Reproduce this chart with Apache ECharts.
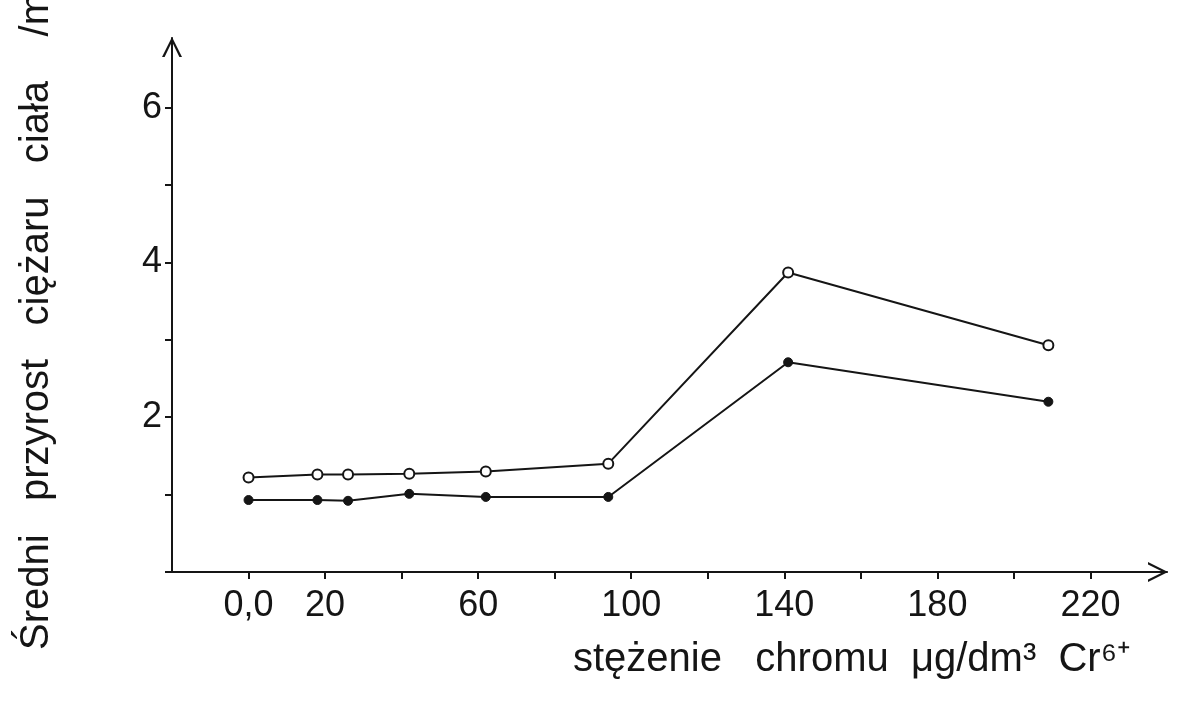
<!DOCTYPE html>
<html>
<head>
<meta charset="utf-8">
<script src="https://cdn.jsdelivr.net/npm/echarts@6/dist/echarts.min.js"></script>
<style>
html,body{margin:0;padding:0;background:#fff;}
#chart{width:1195px;height:703px;}
</style>
</head>
<body>
<div id="chart"></div>
<script>
// ---- data ----
const xValues = [0, 18, 26, 42, 62, 94, 141, 209];
const upperSeries = [1.22, 1.26, 1.26, 1.27, 1.30, 1.40, 3.87, 2.93];
const lowerSeries = [0.93, 0.93, 0.92, 1.01, 0.97, 0.97, 2.71, 2.20];
const xTickValues = [0, 20, 60, 100, 140, 180, 220];
const xTickLabels = ['0,0', '20', '60', '100', '140', '180', '220'];
const yTickValues = [2, 4, 6];
const yTickLabels = ['2', '4', '6'];
const xAxisTitle = 'stężenie   chromu  μg/dm³  Cr⁶⁺';
const yAxisTitle = 'Średni   przyrost   ciężaru   ciała    /mg';

// ---- chart ----
const INK = '#151515';
const FONT = '"Liberation Sans", Arial, sans-serif';
const chevron = 'path://M0,20 L10,0 L20,20 L17.4,20 L10,4.8 L2.6,20 Z';

function pair(xs, ys) { return xs.map((x, i) => [x, ys[i]]); }

const chart = echarts.init(document.getElementById('chart'), null, {renderer: 'canvas'});
chart.setOption({
  animation: false,
  backgroundColor: '#ffffff',
  grid: {left: 172, right: 28, top: 38, bottom: 131, containLabel: false},
  xAxis: {
    type: 'value', min: -20, max: 240, interval: 20,
    axisLine: {show: true, onZero: false, lineStyle: {color: INK, width: 2},
      symbol: ['none', chevron], symbolSize: [20, 20], symbolOffset: [0, -9]},
    axisTick: {show: true, inside: false, length: 7, lineStyle: {color: INK, width: 2}},
    axisLabel: {
      show: true, margin: 16, fontSize: 36, fontFamily: FONT, color: INK,
      showMaxLabel: false, showMinLabel: false,
      formatter: function (v) { const i = xTickValues.indexOf(v); return i >= 0 ? xTickLabels[i] : ''; }
    },
    splitLine: {show: false}
  },
  yAxis: {
    type: 'value', min: 0, max: 6.9, interval: 1,
    axisLine: {show: true, onZero: false, lineStyle: {color: INK, width: 2},
      symbol: ['none', chevron], symbolSize: [20, 20], symbolOffset: [0, -9]},
    axisTick: {show: true, inside: false, length: 7, lineStyle: {color: INK, width: 2}},
    axisLabel: {
      show: true, margin: 10, fontSize: 36, fontFamily: FONT, color: INK,
      showMaxLabel: false,
      formatter: function (v) { const i = yTickValues.indexOf(v); return i >= 0 ? yTickLabels[i] : ''; }
    },
    splitLine: {show: false}
  },
  graphic: [
    {type: 'text', x: 573, y: 660, z: 10,
      style: {text: xAxisTitle, font: '40px ' + FONT, fill: INK, align: 'left', verticalAlign: 'middle', textAlign: 'left', textVerticalAlign: 'middle'}},
    {type: 'text', x: 37, y: 650, rotation: Math.PI / 2, z: 10,
      style: {text: yAxisTitle, font: '40px ' + FONT, fill: INK, align: 'left', verticalAlign: 'middle', textAlign: 'left', textVerticalAlign: 'middle'}}
  ],
  series: [
    {
      type: 'line', data: pair(xValues, upperSeries),
      symbol: 'circle', symbolSize: 10, showAllSymbol: true,
      lineStyle: {color: INK, width: 2},
      itemStyle: {color: '#ffffff', borderColor: INK, borderWidth: 2},
      z: 3
    },
    {
      type: 'line', data: pair(xValues, lowerSeries),
      symbol: 'circle', symbolSize: 9, showAllSymbol: true,
      lineStyle: {color: INK, width: 2},
      itemStyle: {color: INK, borderColor: INK, borderWidth: 1},
      z: 3
    }
  ]
});
</script>
</body>
</html>
